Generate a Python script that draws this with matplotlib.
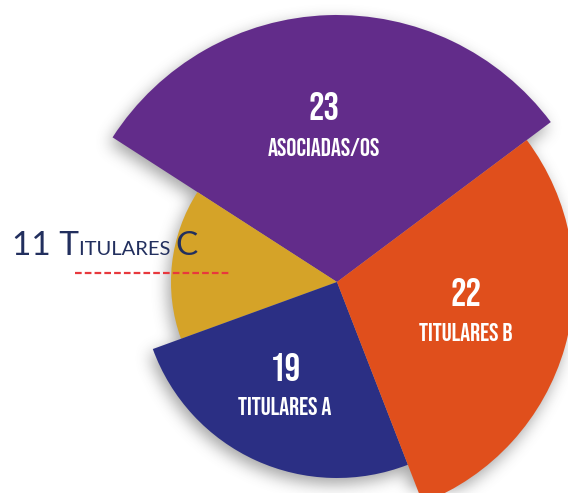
import numpy as np
from matplotlib import pyplot as plt
from matplotlib import font_manager
from matplotlib.patches import Wedge

# data
labels = ['ASOCIADAS/OS', 'TITULARES C', 'TITULARES A', 'TITULARES B']
values = [23, 11, 19, 22]
radii = [267, 166, 196, 237]
colors = ['#622c8a', '#d5a328', '#2b2f84', '#e04f1c']

W, H = 568, 493
cx, cy = 337, H - 282
start = 36.8

names = {f.name for f in font_manager.fontManager.ttflist}
def pick(cands):
    for c in cands:
        if c in names:
            return c
    return 'DejaVu Sans'
cond = pick(['Bebas Neue', 'Oswald', 'Barlow Condensed'])
thin = pick(['Lato', 'Open Sans'])

fig = plt.figure(figsize=(W / 100, H / 100), dpi=100)
ax = fig.add_axes([0, 0, 1, 1])
ax.set_xlim(0, W)
ax.set_ylim(0, H)
ax.axis('off')

# wedge angles from values
angles = np.array(values) / sum(values) * 360
edges = start + np.concatenate([[0], np.cumsum(angles)])

# soft shadow: mask of the pie, blurred
yy, xx = np.mgrid[0:H, 0:W] + 0.5
th = (np.degrees(np.arctan2(yy - cy + 6, xx - cx + 3)) - start) % 360
rr = np.hypot(xx - cx + 3, yy - cy + 6)
mask = np.zeros((H, W))
for i in range(len(values)):
    sel = (th >= edges[i] - start) & (th < edges[i + 1] - start) & (rr <= radii[i])
    mask[sel] = 1
k = np.ones(15) / 15
for _ in range(3):
    mask = np.apply_along_axis(lambda m: np.convolve(m, k, mode='same'), 0, mask)
    mask = np.apply_along_axis(lambda m: np.convolve(m, k, mode='same'), 1, mask)
shadow = np.zeros((H, W, 4))
shadow[..., :3] = 0.35
shadow[..., 3] = mask * 0.55
ax.imshow(shadow, extent=(0, W, 0, H), origin='lower', zorder=0, interpolation='bilinear')
ax.set_aspect('equal')

for i in range(len(values)):
    ax.add_patch(Wedge((cx, cy), radii[i], edges[i], edges[i + 1],
                       facecolor=colors[i], edgecolor='none', zorder=2))

# labels inside wedges
inside = {0: (324, 106, 147), 3: (466, 292, 332), 2: (285, 367, 406)}
for i, (x, ynum, ylab) in inside.items():
    ax.text(x, H - ynum, str(values[i]), color='white', fontsize=28,
            family=cond, ha='center', va='center', zorder=3)
    ax.text(x, H - ylab, labels[i], color='white', fontsize=18,
            family=cond, ha='center', va='center', zorder=3)

# outside label in small caps
navy = '#222f5e'
fig.canvas.draw()
r = fig.canvas.get_renderer()
x0 = 12
parts = [(str(values[1]) + ' T', 24), ('ITULARES ', 14.5), ('C', 24)]
for txt, fs in parts:
    t = ax.text(x0, H - 255, txt, color=navy, fontsize=fs, family=thin,
                ha='left', va='baseline', zorder=3)
    bb = t.get_window_extent(renderer=r)
    x0 = ax.transData.inverted().transform((bb.x1, 0))[0]

ax.plot([75, 230], [H - 273, H - 273], color='#e8383d', lw=1.6,
        dashes=(3, 1.4), zorder=3)

fig.savefig('out.png', dpi=100)
